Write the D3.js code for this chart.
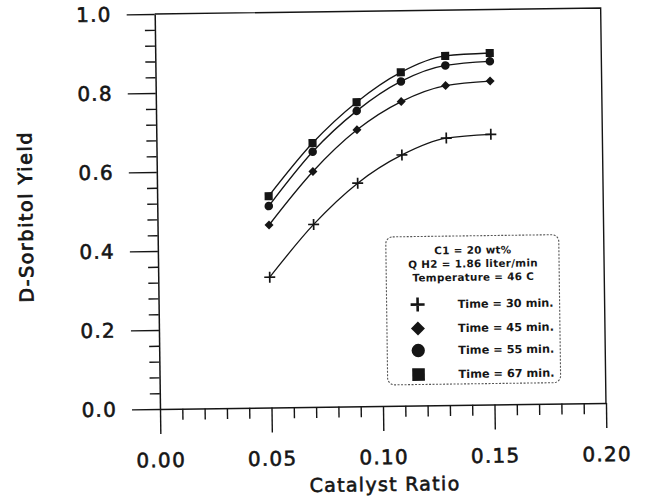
<!DOCTYPE html>
<html>
<head>
<meta charset="utf-8">
<script src="https://cdn.jsdelivr.net/npm/d3@7"></script>
<style>
  html, body { margin: 0; padding: 0; background: #fff; }
  svg { display: block; }
  text { font-family: "DejaVu Sans", Verdana, sans-serif; fill: #161616; }
</style>
</head>
<body>
<svg id="chart" width="652" height="499"></svg>
<script>
// ---- data ----
const catalystRatio = [0.05, 0.07, 0.09, 0.11, 0.13, 0.15];
const yield30 = [0.330, 0.462, 0.565, 0.635, 0.676, 0.684];
const yield45 = [0.462, 0.596, 0.700, 0.770, 0.809, 0.819];
const yield55 = [0.510, 0.646, 0.748, 0.821, 0.860, 0.869];
const yield67 = [0.535, 0.668, 0.770, 0.844, 0.884, 0.890];
const seriesNames = ["Time = 30 min.", "Time = 45 min.", "Time = 55 min.", "Time = 67 min."];
const seriesSymbols = ["plus", "diamond", "circle", "square"];
const legendHeader = ["C1 = 20 wt%", "Q H2 = 1.86 liter/min", "Temperature = 46 C"];
const xMajorTicks = [0.00, 0.05, 0.10, 0.15, 0.20];
const xMinorTicks = [0.01,0.02,0.03,0.04,0.06,0.07,0.08,0.09,0.11,0.12,0.13,0.14,0.16,0.17,0.18,0.19];
const yMajorTicks = [0.0, 0.2, 0.4, 0.6, 0.8, 1.0];
const yMinorTicks = [0.04,0.08,0.12,0.16,0.24,0.28,0.32,0.36,0.44,0.48,0.52,0.56,0.64,0.68,0.72,0.76,0.84,0.88,0.92,0.96];
const xTitle = "Catalyst Ratio";
const yTitle = "D-Sorbitol Yield";

const allSeries = [yield30, yield45, yield55, yield67];

// ---- layout ----
const svg = d3.select("#chart");
const x = d3.scaleLinear().domain([0, 0.20]).range([160, 606]);
const y = d3.scaleLinear().domain([0, 1.0]).range([409, 14]);
const ink = "#151515";

// whole scanned page is slightly rotated
const g = svg.append("g").attr("transform", "rotate(-0.77, 160, 409)");

// frame (top and right)
g.append("path")
  .attr("d", `M${x(0)},${y(1)}H${x(0.2)}V${y(0)}`)
  .attr("fill", "none").attr("stroke", ink).attr("stroke-width", 1.4);

// minor ticks
g.append("g").attr("transform", `translate(0,${y(0)})`)
  .call(d3.axisBottom(x).tickValues(xMinorTicks).tickSize(11).tickFormat("").tickSizeOuter(0))
  .call(s => s.select(".domain").remove())
  .call(s => s.selectAll("line").attr("stroke", ink).attr("stroke-width", 1.4));
g.append("g").attr("transform", `translate(${x(0)},0)`)
  .call(d3.axisLeft(y).tickValues(yMinorTicks).tickSize(10).tickFormat("").tickSizeOuter(0))
  .call(s => s.select(".domain").remove())
  .call(s => s.selectAll("line").attr("stroke", ink).attr("stroke-width", 1.4));

// major axes
const xAxisG = g.append("g").attr("transform", `translate(0,${y(0)})`)
  .call(d3.axisBottom(x).tickValues(xMajorTicks).tickSize(25).tickPadding(19)
        .tickFormat(d3.format(".2f")).tickSizeOuter(0));
xAxisG.select(".domain").attr("stroke", ink).attr("stroke-width", 1.5);
xAxisG.selectAll("line").attr("stroke", ink).attr("stroke-width", 1.4);
xAxisG.selectAll("text").attr("font-size", 20).attr("letter-spacing", 1.3)
  .attr("font-family", "DejaVu Sans").attr("fill", ink)
  .attr("stroke", ink).attr("stroke-width", 0.6);

const yAxisG = g.append("g").attr("transform", `translate(${x(0)},0)`)
  .call(d3.axisLeft(y).tickValues(yMajorTicks).tickSize(28).tickPadding(15)
        .tickFormat(d3.format(".1f")).tickSizeOuter(0));
yAxisG.select(".domain").attr("stroke", ink).attr("stroke-width", 1.5);
yAxisG.selectAll("line").attr("stroke", ink).attr("stroke-width", 1.4);
yAxisG.selectAll("text").attr("font-size", 20).attr("letter-spacing", 1.2)
  .attr("font-family", "DejaVu Sans").attr("fill", ink)
  .attr("stroke", ink).attr("stroke-width", 0.6);

// axis titles
g.append("text").attr("x", 384).attr("y", 494).attr("text-anchor", "middle")
  .attr("font-size", 19).attr("letter-spacing", 1.3)
  .attr("stroke", ink).attr("stroke-width", 0.6).text(xTitle);
g.append("text").attr("transform", "translate(35,215) rotate(-90)")
  .attr("text-anchor", "middle").attr("font-size", 19).attr("letter-spacing", 1.6)
  .attr("stroke", ink).attr("stroke-width", 0.8).text(yTitle);

// ---- symbols ----
function drawSymbol(sel, type, cx, cy, s) {
  if (type === "plus") {
    sel.append("path")
      .attr("d", `M${cx - s},${cy}H${cx + s}M${cx},${cy - s}V${cy + s}`)
      .attr("stroke", ink).attr("stroke-width", s > 6 ? 2.6 : 1.7).attr("fill", "none");
  } else if (type === "diamond") {
    sel.append("path")
      .attr("d", `M${cx},${cy - s}L${cx + s},${cy}L${cx},${cy + s}L${cx - s},${cy}Z`)
      .attr("fill", ink);
  } else if (type === "circle") {
    sel.append("circle").attr("cx", cx).attr("cy", cy).attr("r", s * 0.95).attr("fill", ink);
  } else {
    sel.append("rect").attr("x", cx - s * 0.9).attr("y", cy - s * 0.9)
      .attr("width", s * 1.8).attr("height", s * 1.8).attr("fill", ink);
  }
}

// ---- lines & markers ----
const line = d3.line()
  .x((d, i) => x(catalystRatio[i]))
  .y(d => y(d))
  .curve(d3.curveMonotoneX);

allSeries.forEach((vals, si) => {
  g.append("path").datum(vals).attr("d", line)
    .attr("fill", "none").attr("stroke", ink).attr("stroke-width", 1.3);
});
allSeries.forEach((vals, si) => {
  const mg = g.append("g");
  vals.forEach((v, i) => {
    drawSymbol(mg, seriesSymbols[si], x(catalystRatio[i]), y(v), si === 0 ? 5.5 : 4.5);
  });
});

// ---- legend ----
const lg = g.append("g");
lg.append("rect").attr("x", 388).attr("y", 240).attr("width", 173).attr("height", 148)
  .attr("rx", 7).attr("fill", "#fff").attr("stroke", "#555")
  .attr("stroke-width", 1.1).attr("stroke-dasharray", "2,1.5");
const headerY = [258, 271.5, 285];
legendHeader.forEach((t, i) => {
  lg.append("text").attr("x", 475).attr("y", headerY[i]).attr("text-anchor", "middle")
    .attr("font-size", 10.4).attr("font-weight", "bold").attr("letter-spacing", 0.3).text(t);
});
const rowY = [308, 332, 354, 378];
seriesNames.forEach((t, i) => {
  drawSymbol(lg, seriesSymbols[i], 419, rowY[i], 7);
  lg.append("text").attr("x", 459).attr("y", rowY[i] + 4)
    .attr("font-size", 11.3).attr("font-weight", "bold").text(t);
});
</script>
</body>
</html>
